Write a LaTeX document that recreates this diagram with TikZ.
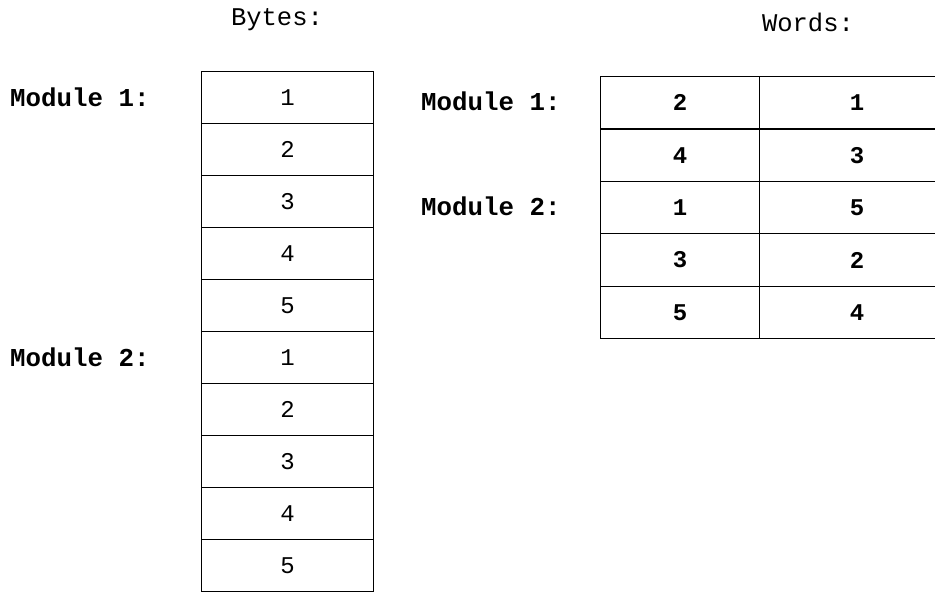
\documentclass[tikz,border=0pt]{standalone}
\usepackage{fontspec}
\setmonofont{Liberation Mono}
\newfontfamily\labfont{Liberation Mono}
\begin{document}
\begin{tikzpicture}[x=1pt,y=-1pt,
  lab/.style={font=\labfont\fontsize{25.5}{28}\selectfont, inner sep=0pt},
  modlab/.style={font=\labfont\bfseries\fontsize{25.8}{28}\selectfont, inner sep=0pt, anchor=west},
  bcell/.style={draw, line width=1.2pt, minimum width=172pt, minimum height=52pt, inner sep=0pt, anchor=north west, font=\labfont\fontsize{24}{26}\selectfont},
  wcell/.style={draw, line width=1.2pt, minimum width=159pt, minimum height=52.4pt, inner sep=0pt, anchor=north west, font=\labfont\bfseries\fontsize{24}{26}\selectfont},
  wcellr/.style={wcell, minimum width=200pt},
  wtext/.style={font=\labfont\bfseries\fontsize{24}{26}\selectfont, inner sep=0pt}]
\useasboundingbox (0,0) rectangle (935,593);
\clip (0,0) rectangle (935,593);
% headings
\node[lab] (hbytes) at (277,20) {Bytes:};
\node[lab] (hwords) at (808,22) {Words:};
% bytes column
\foreach \i/\t in {1/1,2/2,3/3,4/4,5/5,6/1,7/2,8/3,9/4,10/5}{
  \node[bcell] (b\i) at (201,{71+(\i-1)*52}) {\t};
}
\node[modlab] (bm1) at (10,97) {Module 1:};
\node[modlab] (bm2) at (10,357) {Module 2:};
% words table
\foreach \i/\a/\b in {1/2/1,2/4/3,3/1/5,4/3/2,5/5/4}{
  \node[wcell] (wl\i) at (600,{76+(\i-1)*52.4}) {\a};
  \node[wcellr] (wr\i) at (759,{76+(\i-1)*52.4}) {};
  \node[wtext] (wt\i) at ([xshift=98pt]wr\i.west) {\b};
}
\node[modlab] (wm1) at (421,101) {Module 1:};
\node[modlab] (wm2) at (421,206) {Module 2:};
\end{tikzpicture}
\end{document}
